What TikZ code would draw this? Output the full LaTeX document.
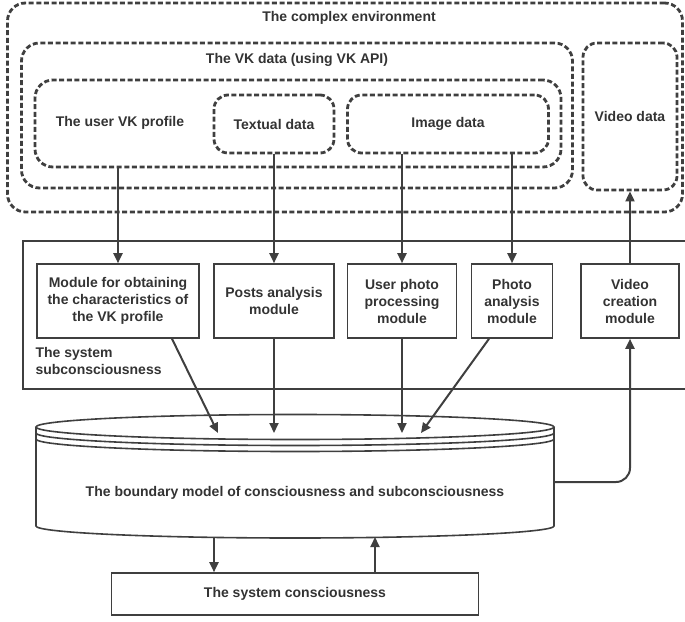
\documentclass[tikz,border=0pt]{standalone}
\usepackage{fontspec}
\setmainfont{Liberation Sans}
\usetikzlibrary{arrows.meta, positioning, calc}
\definecolor{linegray}{HTML}{3F3F3F}
\definecolor{textgray}{HTML}{333333}

\begin{document}
\begin{tikzpicture}[
    x=1pt, y=-1pt,
    font=\fontsize{14}{17}\selectfont\bfseries,
    text=textgray,
    dbox/.style={draw=linegray, line width=2.8pt, dash pattern=on 5pt off 2.6pt, rounded corners=18pt},
    box/.style={draw=linegray, line width=1.6pt, align=center},
    arrow/.style={-{Triangle[length=10pt, width=9pt]}, draw=linegray, line width=2pt}
]
    \useasboundingbox (0,0) rectangle (685,621);

    % The complex environment
    \node[dbox, minimum width=675pt, minimum height=209pt] (env) at (345,107.5) {};
    \node (envtitle) at (349,18) {The complex environment};
    \node[dbox, minimum width=551pt, minimum height=145pt] (vk) at (297,115.5) {};
    \node (vktitle) at (297,60) {The VK data (using VK API)};
    \node[dbox, minimum width=526pt, minimum height=87pt] (profile) at (298,123.5) {};
    \node (proftext) at (120,123) {The user VK profile};
    \node[dbox, rounded corners=14pt, minimum width=120pt, minimum height=58pt] (textual) at (274,124) {Textual data};
    \node[dbox, rounded corners=14pt, minimum width=201pt, minimum height=58pt] (image) at (448,124) {Image data};
    \node[dbox, rounded corners=14pt, minimum width=94pt, minimum height=147pt] (video) at (630,116.5) {Video data};

    % The system subconsciousness
    \node[box, minimum width=680pt, minimum height=148pt] (sub) at (363,315) {};
    \node[align=left, anchor=north west] (sublabel) at (32,344) {The system\\subconsciousness};
    \node[box, minimum width=162pt, minimum height=74pt] (m1) at (118,301) {Module for obtaining\\the characteristics of\\the VK profile};
    \node[box, minimum width=120pt, minimum height=74pt] (m2) at (274,301) {Posts analysis\\module};
    \node[box, minimum width=109pt, minimum height=74pt] (m3) at (402,301) {User photo\\processing\\module};
    \node[box, minimum width=81pt, minimum height=74pt] (m4) at (512,301) {Photo\\analysis\\module};
    \node[box, minimum width=98pt, minimum height=74pt] (m5) at (630,301) {Video\\creation\\module};

    \draw[arrow] (m1.north |- profile.south) -- (m1.north);
    \draw[arrow] (textual.south) -- (m2.north);
    \draw[arrow] (m3.north |- image.south) -- (m3.north);
    \draw[arrow] (m4.north |- image.south) -- (m4.north);
    \draw[arrow] (m5.north) -- (video.south);

    % The boundary model (cylinder)
    \draw[linegray, line width=1.6pt] (295,427) ellipse [x radius=259pt, y radius=12.5pt];
    \draw[linegray, line width=1.6pt] (36,433) arc [start angle=180, end angle=360, x radius=259pt, y radius=12.5pt];
    \draw[linegray, line width=1.6pt] (36,439) arc [start angle=180, end angle=360, x radius=259pt, y radius=12.5pt];
    \draw[linegray, line width=1.6pt] (36,427) -- (36,526)
        arc [start angle=180, end angle=360, x radius=259pt, y radius=12pt] -- (554,427);
    \node (model) at (295,493) {The boundary model of consciousness and subconsciousness};
    \coordinate (in1) at (218,433);
    \coordinate (in4) at (421,433);
    \coordinate (out1) at (214,537);
    \coordinate (out2) at (375,537);

    \draw[arrow] ($(m1.south)+(54,0)$) -- (in1);
    \draw[arrow] (m2.south) -- (m2.south |- in1);
    \draw[arrow] (m3.south) -- (m3.south |- in1);
    \draw[arrow] ($(m4.south)+(-23,0)$) -- (in4);
    \draw[arrow, rounded corners=14pt] (554,482) -| (m5.south);

    % The system consciousness
    \node[box, minimum width=367pt, minimum height=42pt] (cons) at (295,594) {The system consciousness};
    \draw[arrow] (out1) -- (out1 |- cons.north);
    \draw[arrow] (out2 |- cons.north) -- (out2);
\end{tikzpicture}
\end{document}
